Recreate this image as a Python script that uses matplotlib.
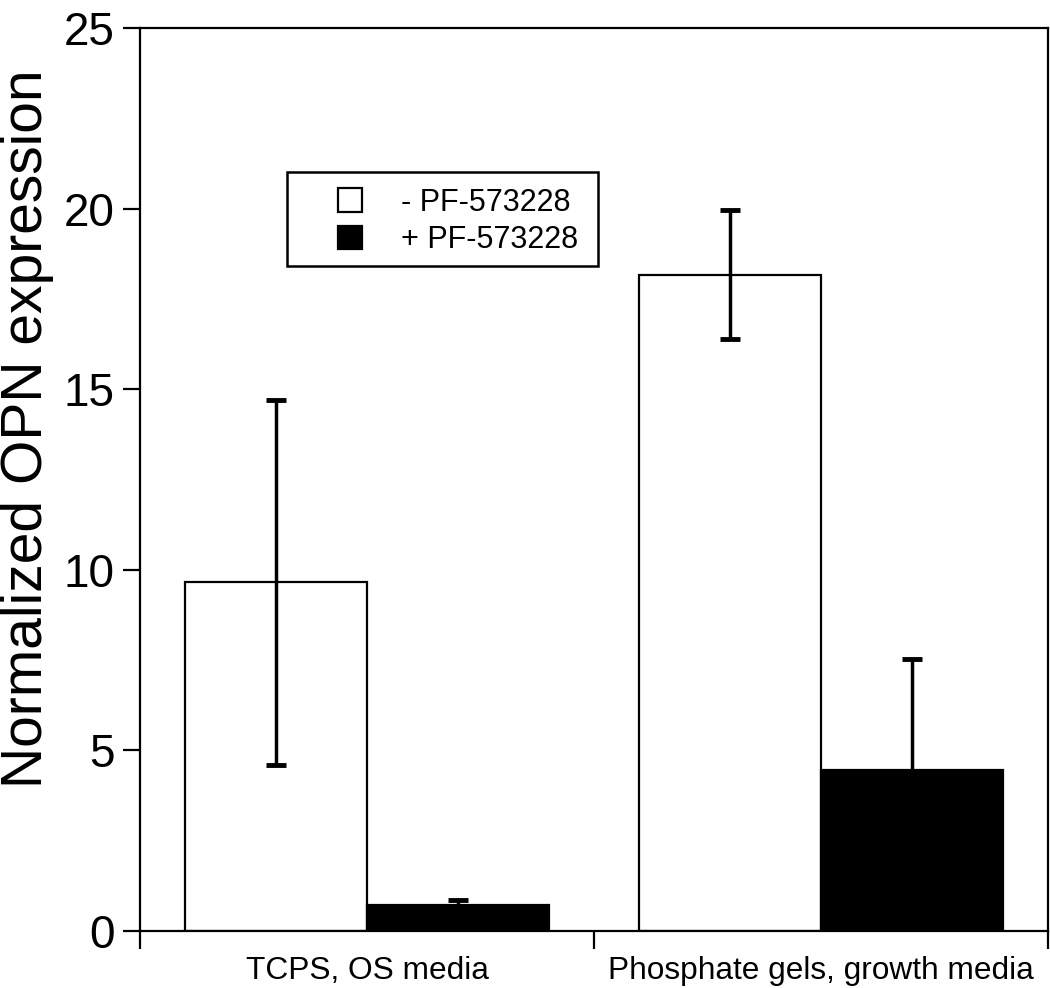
import numpy as np
import matplotlib.pyplot as plt
from matplotlib.patches import Patch, Rectangle

plt.rcParams['font.family'] = ['Liberation Sans', 'DejaVu Sans']

groups = ['TCPS, OS media', 'Phosphate gels, growth media']
minus_vals = [9.65, 18.17]
minus_err = [5.05, 1.78]
plus_vals = [0.72, 4.45]
plus_err = [0.14, 3.07]
series_labels = ['- PF-573228', '+ PF-573228']

fig = plt.figure(figsize=(10.5, 9.88), dpi=100)
ax = fig.add_axes([0.1333, 0.0577, 0.8648, 0.914])

x = np.arange(len(groups))
w = 0.4
ax.bar(x + 0.1, minus_vals, w, align='edge', color='white', edgecolor='black', linewidth=1.6, zorder=2)
ax.bar(x + 0.5, plus_vals, w, align='edge', color='black', edgecolor='black', linewidth=1.6, zorder=2)
ax.errorbar(x + 0.3, minus_vals, yerr=minus_err, fmt='none', ecolor='black',
            elinewidth=2.5, capsize=7, capthick=3.5, zorder=3)
ax.errorbar(x + 0.7, plus_vals, yerr=plus_err, fmt='none', ecolor='black',
            elinewidth=2.5, capsize=7, capthick=3.5, zorder=3)

ax.set_xlim(0, 2)
ax.set_ylim(0, 25)
ax.set_yticks([0, 5, 10, 15, 20, 25])
ax.set_xticks([0, 1, 2])
ax.set_xticklabels([])
ax.set_xticks(x + 0.5, minor=True)
ax.set_xticklabels(groups, minor=True, fontsize=22.8)
ax.tick_params(axis='x', which='minor', length=0, pad=18)
ax.tick_params(axis='x', which='major', direction='out', length=13, width=1.6)
ax.tick_params(axis='y', direction='out', length=12, width=1.6, labelsize=33, pad=6)

for s in ax.spines.values():
    s.set_linewidth(1.6)

ax.set_ylabel('Normalized OPN expression', fontsize=41)
ax.yaxis.set_label_coords(-0.095, 0.556)

# legend frame drawn separately so the padding can be uneven like the original
ax.add_patch(Rectangle((0.162, 0.736), 0.3425, 0.105, transform=ax.transAxes,
                       facecolor='white', edgecolor='black', linewidth=1.8, zorder=4))
handles = [Patch(facecolor='white', edgecolor='black', linewidth=1.6),
           Patch(facecolor='black', edgecolor='black', linewidth=1.6)]
leg = ax.legend(handles, series_labels, loc='upper left', bbox_to_anchor=(0.218, 0.823),
                fontsize=22, frameon=False,
                handlelength=0.8, handleheight=0.8, handletextpad=1.25,
                borderpad=0, borderaxespad=0, labelspacing=0.24)
leg.set_zorder(5)

fig.savefig('out.png', dpi=100)
